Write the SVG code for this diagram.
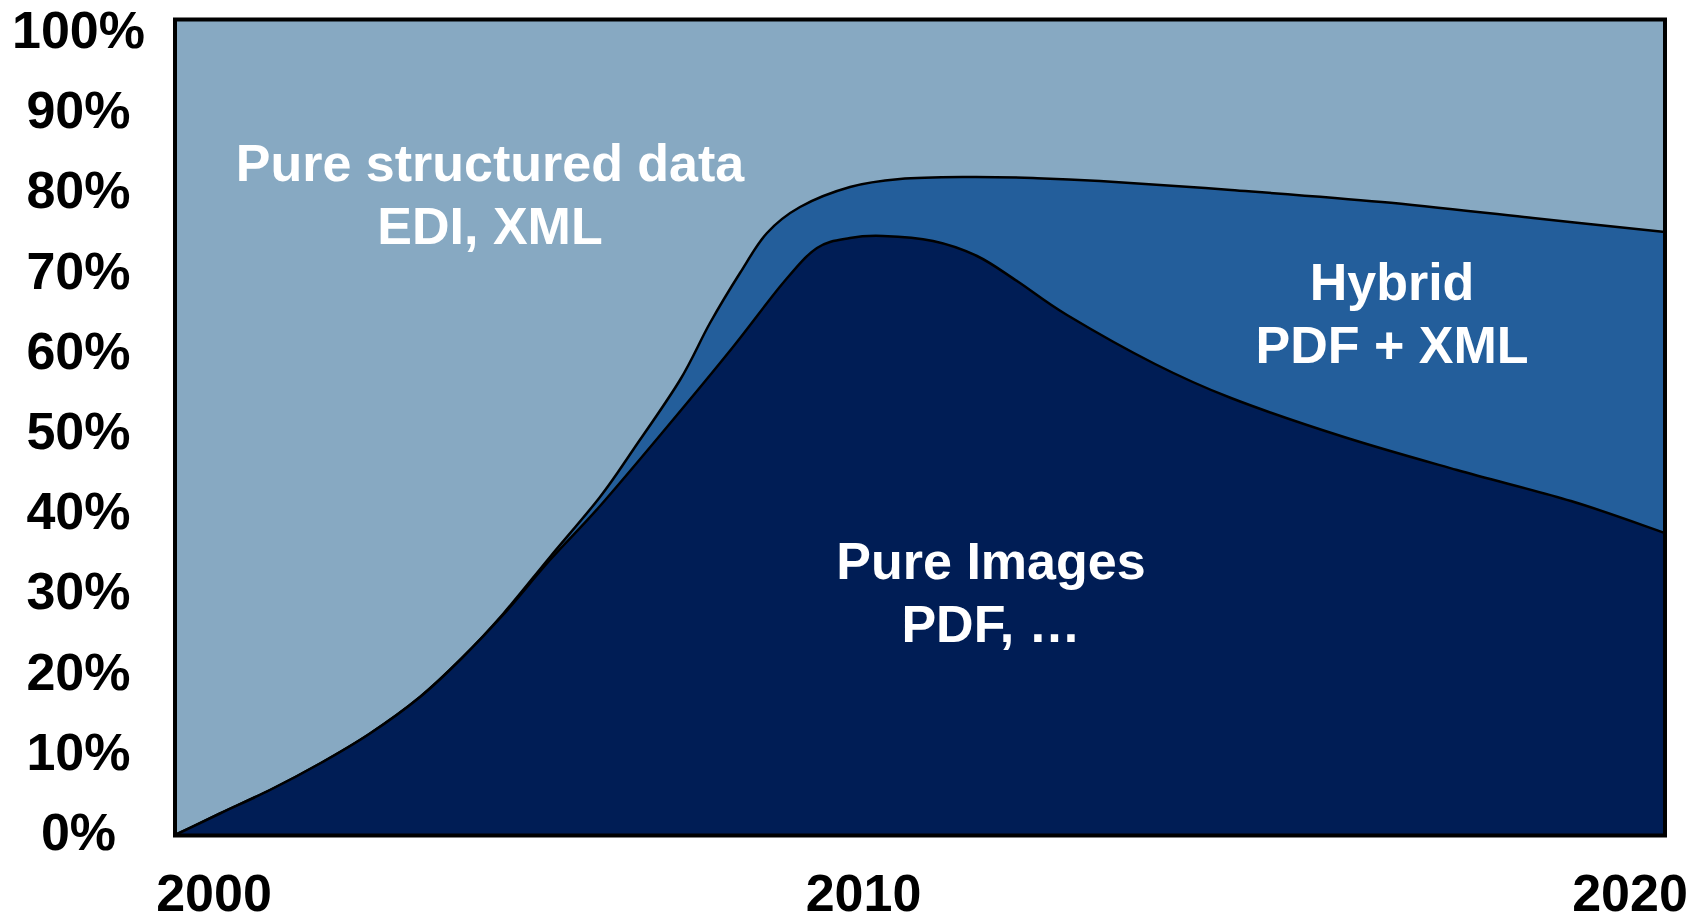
<svg xmlns="http://www.w3.org/2000/svg" width="1703" height="916" viewBox="0 0 1703 916">
<style>
.ax{font-family:"Liberation Sans",Arial,sans-serif;font-weight:bold;font-size:52px;fill:#000;text-anchor:middle}
.lb{font-family:"Liberation Sans",Arial,sans-serif;font-weight:bold;font-size:52px;fill:#fff;text-anchor:middle}
.edge{stroke:#000;stroke-width:2.5;stroke-linejoin:round}
</style>
<rect width="1703" height="916" fill="#fff"/>
<g id="structured">
<rect x="175" y="19.5" width="1490" height="816" fill="#87A9C2"/>
</g>
<g id="hybrid">
<path class="edge" fill="#235E9B" d="M175,835 C190,827.8 204.2,821 220,813.5 C235.8,806 253.3,798.3 270,790 C286.7,781.7 303.3,772.9 320,763.5 C336.7,754.1 353.3,744.6 370,733.5 C386.7,722.4 404.7,709.6 420,697 C435.3,684.4 448.2,671.8 462,658 C475.8,644.2 488.3,630.8 503,614 C517.7,597.2 533.8,576.5 550,557 C566.2,537.5 586.2,514.8 600,497 C613.8,479.2 619.7,469.5 633,450 C646.3,430.5 667.2,401.2 680,380 C692.8,358.8 700,340.8 710,323 C720,305.2 730.5,288 740,273 C749.5,258 757,244 767,233 C777,222 786.2,214.7 800,207 C813.8,199.3 833.3,191.7 850,187 C866.7,182.3 880.5,180.7 900,179 C919.5,177.3 944.8,177.2 967,177 C989.2,176.8 1010.8,177.3 1033,178 C1055.2,178.7 1067,179 1100,181 C1133,183 1184,186.5 1231,190 C1278,193.5 1331.7,197.3 1382,202 C1432.3,206.7 1485.8,213 1533,218 C1580.2,223 1643,229.7 1665,232 L1665,835.5 L175,835.5 Z"/>
</g>
<g id="images">
<path class="edge" fill="#001D55" d="M175,835 C190,827.8 204.2,821 220,813.5 C235.8,806 253.3,798.3 270,790 C286.7,781.7 303.3,772.9 320,763.5 C336.7,754.1 353.3,744.6 370,733.5 C386.7,722.4 404.7,709.6 420,697 C435.3,684.4 448.2,671.7 462,658 C475.8,644.3 488.3,631.3 503,615 C517.7,598.7 533.8,578.2 550,560 C566.2,541.8 580.5,528.2 600,506 C619.5,483.8 644.8,453.5 667,427 C689.2,400.5 713.7,371 733,347 C752.3,323 769,299.5 783,283 C797,266.5 805.8,255.5 817,248 C828.2,240.5 839,240 850,238 C861,236 869.2,235.5 883,236 C896.8,236.5 917.3,237.7 933,241 C948.7,244.3 963,249.3 977,256 C991,262.7 1002,271.2 1017,281 C1032,290.8 1044,301.2 1067,315 C1090,328.8 1127.7,350.2 1155,364 C1182.3,377.8 1199.5,385.8 1231,398 C1262.5,410.2 1306.3,425 1344,437 C1381.7,449 1419.2,459.3 1457,470 C1494.8,480.7 1536.3,490.5 1571,501 C1605.7,511.5 1649.3,527.7 1665,533 L1665,835.5 L175,835.5 Z"/>
</g>
<g id="frame">
<rect x="175" y="19.5" width="1490" height="816" fill="none" stroke="#000" stroke-width="4"/>
</g>
<g id="labels">
<text class="lb" x="490" y="181">Pure structured data</text>
<text class="lb" x="490" y="244">EDI, XML</text>
<text class="lb" x="1392" y="300">Hybrid</text>
<text class="lb" x="1392" y="363">PDF + XML</text>
<text class="lb" x="991" y="579">Pure Images</text>
<text class="lb" x="991" y="642">PDF, …</text>
</g>
<g id="y-axis">
<text class="ax" x="78.5" y="48">100%</text>
<text class="ax" x="78.5" y="128.2">90%</text>
<text class="ax" x="78.5" y="208.4">80%</text>
<text class="ax" x="78.5" y="288.6">70%</text>
<text class="ax" x="78.5" y="368.8">60%</text>
<text class="ax" x="78.5" y="449">50%</text>
<text class="ax" x="78.5" y="529.2">40%</text>
<text class="ax" x="78.5" y="609.4">30%</text>
<text class="ax" x="78.5" y="689.6">20%</text>
<text class="ax" x="78.5" y="769.8">10%</text>
<text class="ax" x="78.5" y="850">0%</text>
</g>
<g id="x-axis">
<text class="ax" x="214" y="911">2000</text>
<text class="ax" x="863.5" y="911">2010</text>
<text class="ax" x="1630" y="911">2020</text>
</g>
</svg>
